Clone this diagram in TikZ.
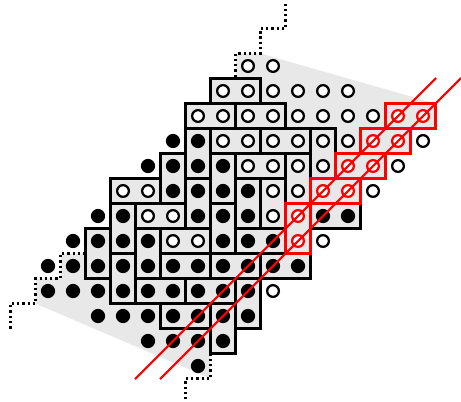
\documentclass[tikz,border=0pt]{standalone}
\usepackage{xcolor}
\usepackage{tikz}

\begin{document}
\begin{tikzpicture}[x=0.5cm, y=-0.5cm,
  domino/.style={fill=black!9, draw=black, line width=1.4pt},
  redomino/.style={fill=black!9, draw=red, line width=1.4pt},
  hole/.style={fill=white, draw=black, line width=1.3pt},
  redhole/.style={fill=white, draw=red, line width=1.3pt},
  border/.style={line width=1.3pt, dash pattern=on 1.3pt off 1.7pt}]
  \useasboundingbox (-1.92,-2.64) rectangle (16.52,13.4);
  % shaded region
  \fill[black!9] (-0.5,9.5) -- (-0.5,8.5) -- (0.5,8.5) -- (0.5,7.5) -- (1.5,7.5)
    -- (1.5,6.5) -- (2.5,6.5) -- (2.5,4.5) -- (4.5,4.5) -- (4.5,3.5) -- (5.5,3.5)
    -- (5.5,1.5) -- (6.5,1.5) -- (6.5,0.5) -- (7.5,0.5) -- (7.5,-0.5) -- (8.5,-0.5)
    -- (15.5,1.5) -- (15.5,2.5) -- (14.5,2.5) -- (14.5,3.5) -- (13.5,3.5) -- (13.5,4.5)
    -- (12.5,4.5) -- (12.5,6.5) -- (10.5,6.5) -- (10.5,8.5) -- (8.5,8.5) -- (8.5,10.5)
    -- (7.5,10.5) -- (7.5,11.5) -- (6.5,11.5) -- (6.5,12.5) -- cycle;
  % dotted staircases
  \draw[border] (9.5,-2.5) -- (9.5,-1.5) -- (8.5,-1.5) -- (8.5,-0.5) -- (7.5,-0.5) -- (7.5,0.5);
  \draw[border] (-1.5,10.5) -- (-1.5,9.5) -- (-0.5,9.5) -- (-0.5,8.5) -- (0.5,8.5) -- (0.5,7.5) -- (1.5,7.5);
  \draw[border] (6.5,11.5) -- (6.5,12.5) -- (5.5,12.5) -- (5.5,13.5);
  \draw[border] (15.5,1.5) -- (15.5,2.5) -- (14.5,2.5) -- (14.5,3.5);
  % dominoes
  \draw[domino] (6.5,0.5) rectangle (8.5,1.5);
  \draw[domino] (5.5,1.5) rectangle (7.5,2.5);
  \draw[domino] (7.5,1.5) rectangle (9.5,2.5);
  \draw[domino] (5.5,2.5) rectangle (6.5,4.5);
  \draw[domino] (6.5,2.5) rectangle (8.5,3.5);
  \draw[domino] (8.5,2.5) rectangle (10.5,3.5);
  \draw[domino] (10.5,2.5) rectangle (11.5,4.5);
  \draw[domino] (4.5,3.5) rectangle (5.5,5.5);
  \draw[domino] (6.5,3.5) rectangle (7.5,5.5);
  \draw[domino] (7.5,3.5) rectangle (9.5,4.5);
  \draw[domino] (9.5,3.5) rectangle (10.5,5.5);
  \draw[domino] (2.5,4.5) rectangle (4.5,5.5);
  \draw[domino] (5.5,4.5) rectangle (6.5,6.5);
  \draw[domino] (7.5,4.5) rectangle (8.5,6.5);
  \draw[domino] (8.5,4.5) rectangle (9.5,6.5);
  \draw[domino] (2.5,5.5) rectangle (3.5,7.5);
  \draw[domino] (3.5,5.5) rectangle (5.5,6.5);
  \draw[domino] (6.5,5.5) rectangle (7.5,7.5);
  \draw[domino] (10.5,5.5) rectangle (12.5,6.5);
  \draw[domino] (1.5,6.5) rectangle (2.5,8.5);
  \draw[domino] (3.5,6.5) rectangle (4.5,8.5);
  \draw[domino] (4.5,6.5) rectangle (6.5,7.5);
  \draw[domino] (7.5,6.5) rectangle (9.5,7.5);
  \draw[domino] (2.5,7.5) rectangle (3.5,9.5);
  \draw[domino] (4.5,7.5) rectangle (6.5,8.5);
  \draw[domino] (6.5,7.5) rectangle (8.5,8.5);
  \draw[domino] (8.5,7.5) rectangle (10.5,8.5);
  \draw[domino] (3.5,8.5) rectangle (5.5,9.5);
  \draw[domino] (5.5,8.5) rectangle (7.5,9.5);
  \draw[domino] (7.5,8.5) rectangle (8.5,10.5);
  \draw[domino] (4.5,9.5) rectangle (6.5,10.5);
  \draw[domino] (6.5,9.5) rectangle (7.5,11.5);
  % red dominoes
  \draw[redomino] (13.5,1.5) rectangle (15.5,2.5);
  \draw[redomino] (12.5,2.5) rectangle (14.5,3.5);
  \draw[redomino] (11.5,3.5) rectangle (13.5,4.5);
  \draw[redomino] (10.5,4.5) rectangle (12.5,5.5);
  \draw[redomino] (9.5,5.5) rectangle (10.5,7.5);
  % particles (row/first/last)
  \foreach \j/\a/\b in {3/5/6, 4/4/7, 5/5/8, 6/2/3, 6/6/8, 6/11/12, 7/1/4, 7/7/9,
      8/0/10, 9/0/8, 10/2/8, 11/4/7, 12/6/6}
    \foreach \i in {\a,...,\b} \fill (\i,\j) circle (0.285);
  % holes
  \foreach \j/\a/\b in {0/8/9, 1/7/12, 2/6/13, 3/7/12, 3/15/15, 4/8/11, 4/14/14,
      5/3/4, 5/9/10, 5/13/13, 6/4/5, 6/9/9, 7/5/6, 7/11/11, 9/9/9}
    \foreach \i in {\a,...,\b} \draw[hole] (\i,\j) circle (0.235);
  \foreach \j/\a/\b in {2/14/15, 3/13/14, 4/12/13, 5/11/12, 6/10/10, 7/10/10}
    \foreach \i in {\a,...,\b} \draw[redhole] (\i,\j) circle (0.235);
  % diagonals
  \draw[red, line width=1.2pt] (3.48,12.52) -- (15.52,0.48);
  \draw[red, line width=1.2pt] (4.48,12.52) -- (16.52,0.48);
\end{tikzpicture}
\end{document}
